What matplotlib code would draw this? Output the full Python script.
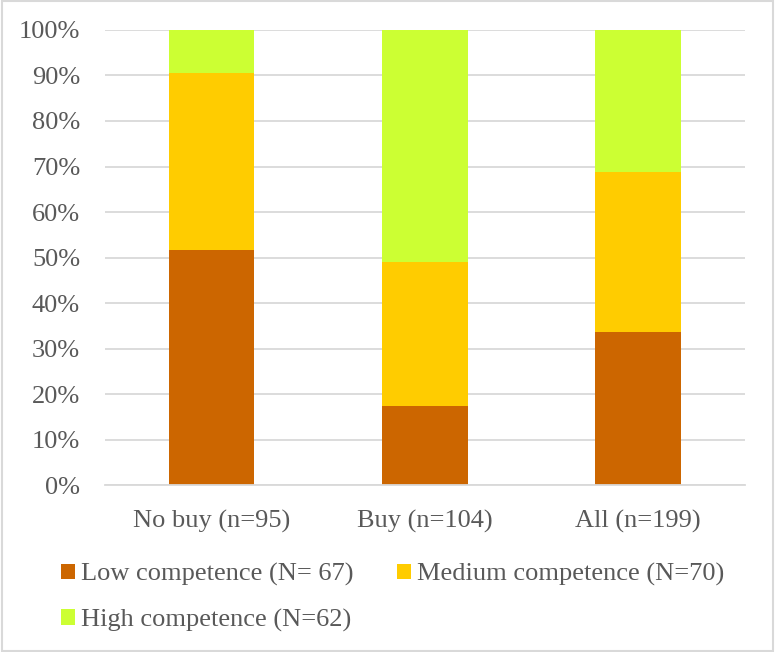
import numpy as np
import matplotlib.pyplot as plt
from matplotlib.patches import Rectangle

plt.rcParams['font.family'] = ['Liberation Serif', 'DejaVu Serif']

groups = ["No buy (n=95)", "Buy (n=104)", "All (n=199)"]
series = ["Low competence (N= 67)", "Medium competence (N=70)", "High competence (N=62)"]
# respondents per competence level in each group
low = [49, 18, 67]
medium = [37, 33, 70]
high = [9, 53, 62]
colors = ["#CC6600", "#FFCC00", "#CCFF33"]

counts = np.array([low, medium, high], dtype=float)
shares = counts / counts.sum(axis=0)

fig = plt.figure(figsize=(7.75, 6.52), dpi=100)
ax = fig.add_axes([0.1355, 0.2561, 0.8255, 0.6979])

x = np.arange(len(groups))
bottom = np.zeros(len(groups))
handles = []
for vals, col, name in zip(shares, colors, series):
    h = ax.bar(x, vals, 0.40, bottom=bottom, color=col, label=name, zorder=2)
    handles.append(h)
    bottom += vals

ax.set_xlim(-0.5, 2.5)
ax.set_ylim(0, 1)
ax.set_yticks(np.arange(0, 1.01, 0.1))
ax.set_yticklabels([f"{int(round(v*100))}%" for v in np.arange(0, 1.01, 0.1)])
ax.set_xticks(x)
ax.set_xticklabels(groups)
ax.yaxis.grid(True, color="#D9D9D9", linewidth=1.3, zorder=0)
ax.set_axisbelow(True)
for s in ["top", "right", "left"]:
    ax.spines[s].set_visible(False)
ax.spines["bottom"].set_color("#D9D9D9")
ax.spines["bottom"].set_linewidth(1.3)
ax.tick_params(axis="both", length=0, labelsize=19, colors="#595959")
ax.tick_params(axis="y", pad=18)
ax.tick_params(axis="x", pad=18)

# row-major order for the two-column legend
order = [0, 2, 1]
leg = fig.legend([handles[i] for i in order], [series[i] for i in order],
                 ncol=2, loc="upper left", bbox_to_anchor=(0.0787, 0.136),
                 frameon=False, fontsize=19, handlelength=0.53, handleheight=0.53,
                 handletextpad=0.23, columnspacing=1.63, labelspacing=0.84,
                 borderaxespad=0, borderpad=0)
for t in leg.get_texts():
    t.set_color("#595959")

fig.patches.append(Rectangle((0.002, 0.002), 0.996, 0.996, transform=fig.transFigure,
                             fill=False, edgecolor="#D9D9D9", linewidth=1.5))

fig.savefig("out.png", dpi=100)
